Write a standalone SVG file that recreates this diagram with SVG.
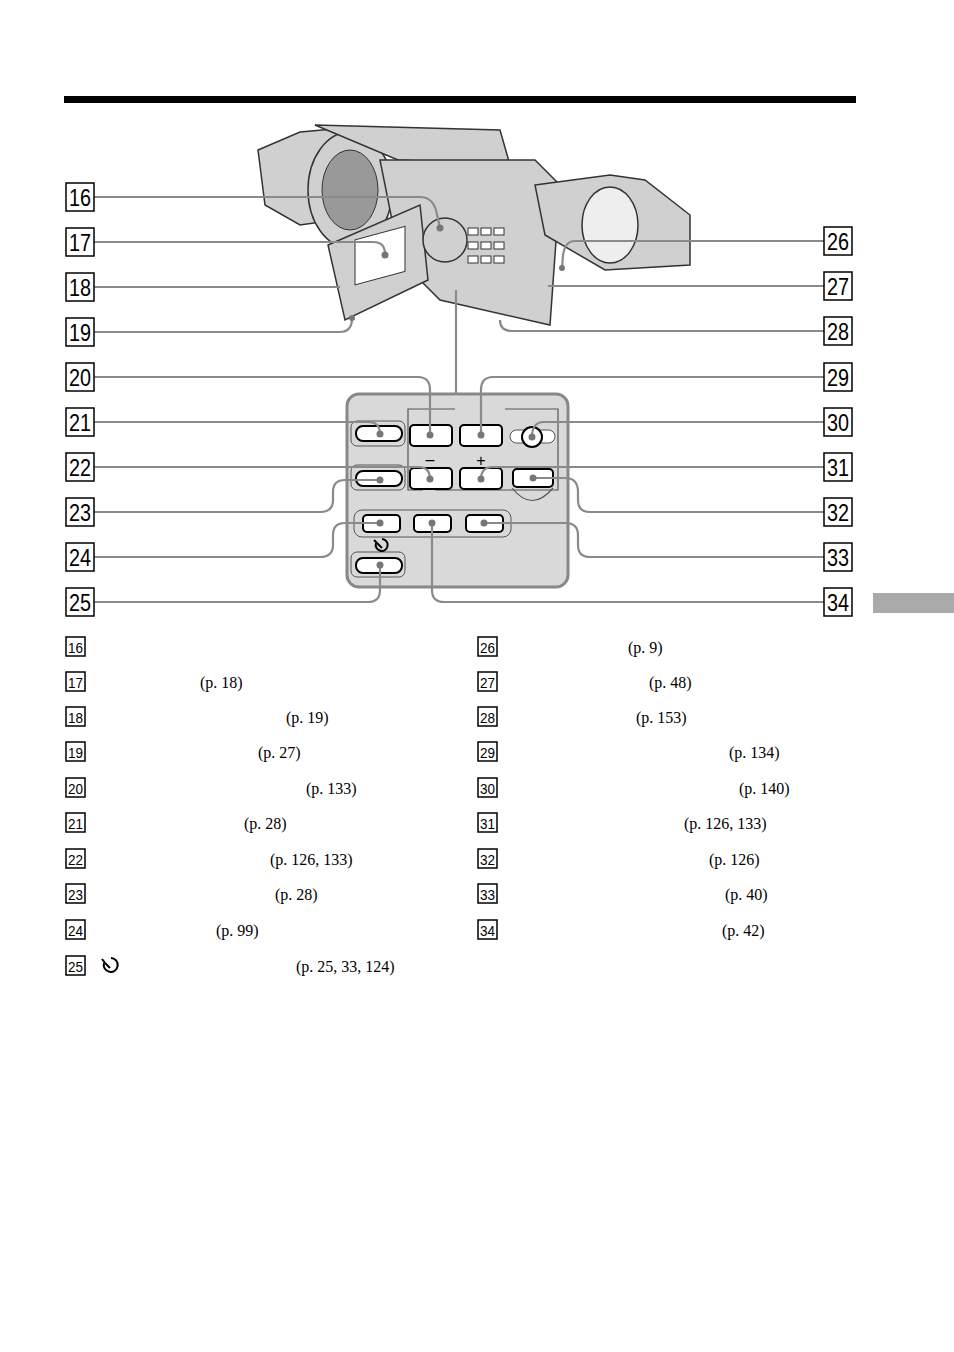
<svg xmlns="http://www.w3.org/2000/svg" width="954" height="1352" viewBox="0 0 954 1352">
<style>
.lead{fill:none;stroke:#8a8a8a;stroke-width:2.2}
.nb{fill:#fff;stroke:#000;stroke-width:1.5}
.nt{font-family:"Liberation Sans",Arial,sans-serif;font-size:24px;fill:#000;text-anchor:middle}
.ln{font-family:"Liberation Sans",Arial,sans-serif;font-size:16px;fill:#000;text-anchor:middle}
.pg{font-family:"Liberation Serif","Times New Roman",serif;font-size:16px;fill:#000}
.btn{fill:#fff;stroke:#000;stroke-width:2}
.sh{fill:none;stroke:#555;stroke-width:1}
.cam{fill:#d0d0d0;stroke:#333;stroke-width:1.5}
.dot{fill:#777}
</style>
<rect x="0" y="0" width="954" height="1352" fill="#fff"/>
<rect x="64" y="96" width="792" height="7" fill="#000"/>
<rect x="873" y="593" width="81" height="20" fill="#aaa"/>
<g id="camera">
<path class="cam" d="M258,150 L300,132 L345,128 L380,150 L370,215 L300,225 L265,205 Z"/>
<ellipse class="cam" cx="350" cy="190" rx="42" ry="58" fill="#bbb"/>
<ellipse cx="350" cy="190" rx="28" ry="40" fill="#999" stroke="#333"/>
<path class="cam" d="M315,125 L500,130 L510,165 L398,160 Z"/>
<path class="cam" d="M380,160 L535,160 L560,185 L550,325 L440,300 L400,260 Z"/>
<path class="cam" d="M535,185 L610,175 L645,180 L690,215 L690,265 L605,270 L545,235 Z" fill="#999"/>
<ellipse cx="610" cy="225" rx="28" ry="38" fill="#eee" stroke="#333" stroke-width="1.5"/>
<path class="cam" d="M328,245 L420,205 L428,280 L345,320 Z" fill="#e8e8e8"/>
<rect x="355" y="235" width="50" height="45" fill="#fff" stroke="#333" transform="skewY(-15) translate(0,100)"/>
<circle cx="445" cy="240" r="22" class="cam" fill="#bbb"/>
<g fill="#fff" stroke="#333">
<rect x="468" y="228" width="10" height="7"/><rect x="481" y="228" width="10" height="7"/><rect x="494" y="228" width="10" height="7"/>
<rect x="468" y="242" width="10" height="7"/><rect x="481" y="242" width="10" height="7"/><rect x="494" y="242" width="10" height="7"/>
<rect x="468" y="256" width="10" height="7"/><rect x="481" y="256" width="10" height="7"/><rect x="494" y="256" width="10" height="7"/>
</g>
</g>
<g id="panel">
<rect x="347" y="394" width="221" height="193" rx="12" fill="#d9d9d9" stroke="#888" stroke-width="3"/>
<path d="M455,409 H408 V490 H422 Q430,485 436,490 H558 V409 H505" fill="none" stroke="#555" stroke-width="1.2"/>
<path d="M512,488 Q532,513 553,488" fill="none" stroke="#555" stroke-width="1.2"/>
<rect x="354" y="510" width="157" height="27" rx="8" class="sh"/>
<rect x="351" y="421" width="54" height="25" rx="6" class="sh"/>
<rect x="351" y="465" width="54" height="25" rx="6" class="sh"/>
<rect x="351" y="552" width="54" height="25" rx="6" class="sh"/>
<rect x="356" y="426" width="46" height="15" rx="7" class="btn"/>
<rect x="356" y="471" width="46" height="15" rx="7" class="btn"/>
<rect x="356" y="558" width="46" height="15" rx="7" class="btn"/>
<rect x="410" y="425" width="42" height="21" rx="4" class="btn"/>
<rect x="460" y="425" width="42" height="21" rx="4" class="btn"/>
<rect x="410" y="468" width="42" height="21" rx="4" class="btn"/>
<rect x="460" y="468" width="42" height="21" rx="4" class="btn"/>
<rect x="513" y="469" width="40" height="18" rx="4" class="btn"/>
<rect x="363" y="515" width="37" height="17" rx="4" class="btn"/>
<rect x="414" y="515" width="37" height="17" rx="4" class="btn"/>
<rect x="466" y="515" width="37" height="17" rx="4" class="btn"/>
<rect x="510" y="430" width="45" height="13" rx="6.5" fill="#fff" stroke="#555"/>
<circle cx="532" cy="437" r="10" class="btn"/>
<text x="430" y="465" class="ln">–</text>
<text x="481" y="466" class="ln">+</text>
<g fill="none" stroke="#000" stroke-width="2"><path d="M376,543 A6,6 0 1 0 382,539"/><path d="M377,543 L382,548"/><path d="M374,540 L377,543"/></g>
</g>
<g id="connectors">
<path class="lead" d="M94,197 H420 Q432,197 436,210 L440,228"/>
<path class="lead" d="M94,242 H373 Q385,242 385,254"/>
<path class="lead" d="M94,287 H340"/>
<path class="lead" d="M94,332 H340 Q352,332 352,318"/>
<path class="lead" d="M94,377 H418 Q430,377 430,390 V435"/>
<path class="lead" d="M94,422 H368 Q380,422 380,434"/>
<path class="lead" d="M94,467 H418 Q430,467 430,479"/>
<path class="lead" d="M94,512 H320 Q333,512 333,500 V492 Q333,480 345,480 H380"/>
<path class="lead" d="M94,557 H320 Q333,557 333,545 V535 Q333,523 345,523 H380"/>
<path class="lead" d="M94,602 H368 Q380,602 380,590 V565"/>
<path class="lead" d="M456,290 V395"/>
<path class="lead" d="M824,241 H575 Q565,241 563,255 L562,268"/>
<path class="lead" d="M824,286 H548"/>
<path class="lead" d="M824,331 H512 Q500,331 500,320"/>
<path class="lead" d="M824,377 H493 Q481,377 481,390 V435"/>
<path class="lead" d="M824,422 H544 Q532,422 532,437"/>
<path class="lead" d="M824,467 H493 Q481,467 481,479"/>
<path class="lead" d="M824,512 H590 Q578,512 578,500 V492 Q578,478 565,478 H533"/>
<path class="lead" d="M824,557 H590 Q578,557 578,545 V535 Q578,523 565,523 H484"/>
<path class="lead" d="M824,602 H444 Q432,602 432,590 V523"/>
<g class="dot">
<circle cx="440" cy="228" r="3.5"/><circle cx="385" cy="255" r="3.5"/><circle cx="352" cy="318" r="3"/>
<circle cx="430" cy="435" r="3.5"/><circle cx="380" cy="434" r="3.5"/><circle cx="430" cy="479" r="3.5"/>
<circle cx="380" cy="480" r="3.5"/><circle cx="380" cy="523" r="3.5"/><circle cx="380" cy="565" r="3.5"/>
<circle cx="481" cy="435" r="3.5"/><circle cx="532" cy="437" r="3.5"/><circle cx="481" cy="479" r="3.5"/>
<circle cx="533" cy="478" r="3.5"/><circle cx="484" cy="523" r="3.5"/><circle cx="432" cy="523" r="3.5"/>
<circle cx="562" cy="268" r="3"/>
</g>
</g>
<g id="callouts">
<g id="c16"><rect x="66" y="183" width="28" height="28" class="nb"/><text x="80" y="206" class="nt" textLength="22" lengthAdjust="spacingAndGlyphs">16</text></g>
<g id="c17"><rect x="66" y="228" width="28" height="28" class="nb"/><text x="80" y="251" class="nt" textLength="22" lengthAdjust="spacingAndGlyphs">17</text></g>
<g id="c18"><rect x="66" y="273" width="28" height="28" class="nb"/><text x="80" y="296" class="nt" textLength="22" lengthAdjust="spacingAndGlyphs">18</text></g>
<g id="c19"><rect x="66" y="318" width="28" height="28" class="nb"/><text x="80" y="341" class="nt" textLength="22" lengthAdjust="spacingAndGlyphs">19</text></g>
<g id="c20"><rect x="66" y="363" width="28" height="28" class="nb"/><text x="80" y="386" class="nt" textLength="22" lengthAdjust="spacingAndGlyphs">20</text></g>
<g id="c21"><rect x="66" y="408" width="28" height="28" class="nb"/><text x="80" y="431" class="nt" textLength="22" lengthAdjust="spacingAndGlyphs">21</text></g>
<g id="c22"><rect x="66" y="453" width="28" height="28" class="nb"/><text x="80" y="476" class="nt" textLength="22" lengthAdjust="spacingAndGlyphs">22</text></g>
<g id="c23"><rect x="66" y="498" width="28" height="28" class="nb"/><text x="80" y="521" class="nt" textLength="22" lengthAdjust="spacingAndGlyphs">23</text></g>
<g id="c24"><rect x="66" y="543" width="28" height="28" class="nb"/><text x="80" y="566" class="nt" textLength="22" lengthAdjust="spacingAndGlyphs">24</text></g>
<g id="c25"><rect x="66" y="588" width="28" height="28" class="nb"/><text x="80" y="611" class="nt" textLength="22" lengthAdjust="spacingAndGlyphs">25</text></g>
<g id="c26"><rect x="824" y="227" width="28" height="28" class="nb"/><text x="838" y="250" class="nt" textLength="22" lengthAdjust="spacingAndGlyphs">26</text></g>
<g id="c27"><rect x="824" y="272" width="28" height="28" class="nb"/><text x="838" y="295" class="nt" textLength="22" lengthAdjust="spacingAndGlyphs">27</text></g>
<g id="c28"><rect x="824" y="317" width="28" height="28" class="nb"/><text x="838" y="340" class="nt" textLength="22" lengthAdjust="spacingAndGlyphs">28</text></g>
<g id="c29"><rect x="824" y="363" width="28" height="28" class="nb"/><text x="838" y="386" class="nt" textLength="22" lengthAdjust="spacingAndGlyphs">29</text></g>
<g id="c30"><rect x="824" y="408" width="28" height="28" class="nb"/><text x="838" y="431" class="nt" textLength="22" lengthAdjust="spacingAndGlyphs">30</text></g>
<g id="c31"><rect x="824" y="453" width="28" height="28" class="nb"/><text x="838" y="476" class="nt" textLength="22" lengthAdjust="spacingAndGlyphs">31</text></g>
<g id="c32"><rect x="824" y="498" width="28" height="28" class="nb"/><text x="838" y="521" class="nt" textLength="22" lengthAdjust="spacingAndGlyphs">32</text></g>
<g id="c33"><rect x="824" y="543" width="28" height="28" class="nb"/><text x="838" y="566" class="nt" textLength="22" lengthAdjust="spacingAndGlyphs">33</text></g>
<g id="c34"><rect x="824" y="588" width="28" height="28" class="nb"/><text x="838" y="611" class="nt" textLength="22" lengthAdjust="spacingAndGlyphs">34</text></g>
</g>
<g id="legend">
<g class="nb"><rect x="66" y="637" width="19" height="19"/><rect x="66" y="672" width="19" height="19"/><rect x="66" y="707" width="19" height="19"/><rect x="66" y="742" width="19" height="19"/><rect x="66" y="778" width="19" height="19"/><rect x="66" y="813" width="19" height="19"/><rect x="66" y="849" width="19" height="19"/><rect x="66" y="884" width="19" height="19"/><rect x="66" y="920" width="19" height="19"/><rect x="66" y="956" width="19" height="19"/>
<rect x="478" y="637" width="19" height="19"/><rect x="478" y="672" width="19" height="19"/><rect x="478" y="707" width="19" height="19"/><rect x="478" y="742" width="19" height="19"/><rect x="478" y="778" width="19" height="19"/><rect x="478" y="813" width="19" height="19"/><rect x="478" y="849" width="19" height="19"/><rect x="478" y="884" width="19" height="19"/><rect x="478" y="920" width="19" height="19"/></g>
<g class="ln" style="font-size:15px"><text x="75.5" y="653" textLength="15" lengthAdjust="spacingAndGlyphs">16</text><text x="75.5" y="688" textLength="15" lengthAdjust="spacingAndGlyphs">17</text><text x="75.5" y="723" textLength="15" lengthAdjust="spacingAndGlyphs">18</text><text x="75.5" y="758" textLength="15" lengthAdjust="spacingAndGlyphs">19</text><text x="75.5" y="794" textLength="15" lengthAdjust="spacingAndGlyphs">20</text><text x="75.5" y="829" textLength="15" lengthAdjust="spacingAndGlyphs">21</text><text x="75.5" y="865" textLength="15" lengthAdjust="spacingAndGlyphs">22</text><text x="75.5" y="900" textLength="15" lengthAdjust="spacingAndGlyphs">23</text><text x="75.5" y="936" textLength="15" lengthAdjust="spacingAndGlyphs">24</text><text x="75.5" y="972" textLength="15" lengthAdjust="spacingAndGlyphs">25</text>
<text x="487.5" y="653" textLength="15" lengthAdjust="spacingAndGlyphs">26</text><text x="487.5" y="688" textLength="15" lengthAdjust="spacingAndGlyphs">27</text><text x="487.5" y="723" textLength="15" lengthAdjust="spacingAndGlyphs">28</text><text x="487.5" y="758" textLength="15" lengthAdjust="spacingAndGlyphs">29</text><text x="487.5" y="794" textLength="15" lengthAdjust="spacingAndGlyphs">30</text><text x="487.5" y="829" textLength="15" lengthAdjust="spacingAndGlyphs">31</text><text x="487.5" y="865" textLength="15" lengthAdjust="spacingAndGlyphs">32</text><text x="487.5" y="900" textLength="15" lengthAdjust="spacingAndGlyphs">33</text><text x="487.5" y="936" textLength="15" lengthAdjust="spacingAndGlyphs">34</text></g>
<g fill="none" stroke="#000" stroke-width="2"><path d="M104,963 A7,7 0 1 0 111,958"/><path d="M105,963 L110,968"/><path d="M102,959 L105,963"/></g>
<g class="pg"><text x="200" y="688">(p. 18)</text><text x="286" y="723">(p. 19)</text><text x="258" y="758">(p. 27)</text><text x="306" y="794">(p. 133)</text><text x="244" y="829">(p. 28)</text><text x="270" y="865">(p. 126, 133)</text><text x="275" y="900">(p. 28)</text><text x="216" y="936">(p. 99)</text><text x="296" y="972">(p. 25, 33, 124)</text>
<text x="628" y="653">(p. 9)</text><text x="649" y="688">(p. 48)</text><text x="636" y="723">(p. 153)</text><text x="729" y="758">(p. 134)</text><text x="739" y="794">(p. 140)</text><text x="684" y="829">(p. 126, 133)</text><text x="709" y="865">(p. 126)</text><text x="725" y="900">(p. 40)</text><text x="722" y="936">(p. 42)</text></g>
</g>
</svg>
